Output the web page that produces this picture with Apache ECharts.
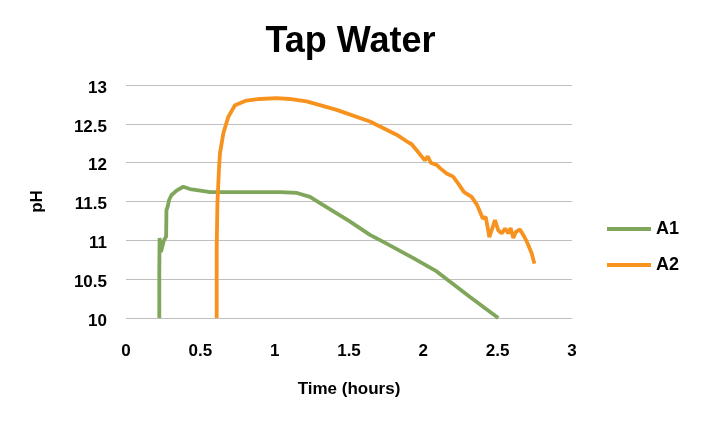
<!DOCTYPE html>
<html>
<head>
<meta charset="utf-8">
<script src="https://cdn.jsdelivr.net/npm/echarts@6.0.0/dist/echarts.min.js"></script>
<style>
  html, body { margin: 0; padding: 0; background: #fff; }
  #chart { width: 701px; height: 426px; }
</style>
</head>
<body>
<div id="chart"></div>
<script type="text/javascript">
// values
var a1Time = [0.224, 0.224, 0.226, 0.235, 0.255, 0.27, 0.272, 0.28, 0.29, 0.305, 0.34, 0.385, 0.43, 0.5, 0.565, 0.8, 1.036, 1.15, 1.238, 1.305, 1.5, 1.641, 1.731, 1.933, 2.09, 2.314, 2.504];
var a1PH   = [10.0, 10.6, 11.03, 10.85, 11.0, 11.05, 11.39, 11.43, 11.52, 11.58, 11.64, 11.69, 11.66, 11.64, 11.62, 11.62, 11.62, 11.61, 11.56, 11.48, 11.25, 11.07, 10.98, 10.77, 10.6, 10.27, 10.0];

var a2Time = [0.61, 0.61, 0.615, 0.625, 0.632, 0.655, 0.688, 0.733, 0.81, 0.9, 1.013, 1.1, 1.215, 1.417, 1.641, 1.82, 1.9, 1.92, 1.955, 2.01, 2.03, 2.05, 2.09, 2.112, 2.157, 2.2, 2.235, 2.27, 2.29, 2.325, 2.36, 2.376, 2.4, 2.42, 2.444, 2.482, 2.504, 2.527, 2.55, 2.572, 2.587, 2.605, 2.623, 2.65, 2.684, 2.706, 2.729, 2.747];
var a2PH   = [10.0, 10.9, 11.48, 11.9, 12.12, 12.38, 12.59, 12.74, 12.8, 12.82, 12.83, 12.82, 12.79, 12.68, 12.53, 12.36, 12.26, 12.24, 12.16, 12.03, 12.08, 12.0, 11.97, 11.93, 11.86, 11.82, 11.73, 11.63, 11.6, 11.56, 11.46, 11.39, 11.28, 11.3, 11.04, 11.26, 11.13, 11.09, 11.15, 11.09, 11.16, 11.03, 11.11, 11.14, 11.03, 10.94, 10.83, 10.7];

var xTicks = [0, 0.5, 1, 1.5, 2, 2.5, 3];

function pairs(xs, ys) {
  var out = [];
  for (var i = 0; i < xs.length; i++) out.push([xs[i], ys[i]]);
  return out;
}

var chart = echarts.init(document.getElementById('chart'));
var boldText = { color: '#000', fontWeight: 'bold', fontFamily: 'Liberation Sans, Arial, sans-serif' };

var option = {
  animation: false,
  title: {
    text: 'Tap Water',
    left: 'center',
    top: 19,
    textStyle: { color: '#000', fontWeight: 'bold', fontSize: 36, fontFamily: 'Liberation Sans, Arial, sans-serif' }
  },
  legend: {
    orient: 'vertical',
    left: 602,
    top: 215,
    itemGap: 18,
    itemWidth: 44,
    itemHeight: 4,
    icon: 'rect',
    textStyle: Object.assign({ fontSize: 18 }, boldText),
    data: ['A1', 'A2']
  },
  grid: { left: 126, right: 129, top: 85, bottom: 108 },
  xAxis: {
    type: 'value',
    min: 0,
    max: 3,
    interval: 0.5,
    name: 'Time (hours)',
    nameLocation: 'middle',
    nameGap: 63,
    nameTextStyle: Object.assign({ fontSize: 17 }, boldText),
    axisLine: { show: false },
    axisTick: { show: false },
    splitLine: { show: false },
    axisLabel: Object.assign({
      fontSize: 17,
      margin: 25,
      formatter: function (v) { return xTicks.indexOf(v) >= 0 ? String(v) : ''; }
    }, boldText)
  },
  yAxis: {
    type: 'value',
    min: 10,
    max: 13,
    interval: 0.5,
    name: 'pH',
    nameLocation: 'middle',
    nameGap: 80,
    nameRotate: 90,
    nameTextStyle: Object.assign({ fontSize: 17 }, boldText),
    axisLine: { show: false },
    axisTick: { show: false },
    splitLine: { show: true, lineStyle: { color: '#BFBFBF', width: 1 } },
    axisLabel: Object.assign({ fontSize: 17, margin: 19, verticalAlign: 'top', lineHeight: 6 }, boldText)
  },
  series: [
    {
      name: 'A1',
      type: 'line',
      symbol: 'none',
      lineStyle: { color: '#7FA65A', width: 3.8 },
      itemStyle: { color: '#7FA65A' },
      data: pairs(a1Time, a1PH)
    },
    {
      name: 'A2',
      type: 'line',
      symbol: 'none',
      lineStyle: { color: '#F7921E', width: 3.8 },
      itemStyle: { color: '#F7921E' },
      data: pairs(a2Time, a2PH)
    }
  ]
};
chart.setOption(option);
</script>
</body>
</html>
